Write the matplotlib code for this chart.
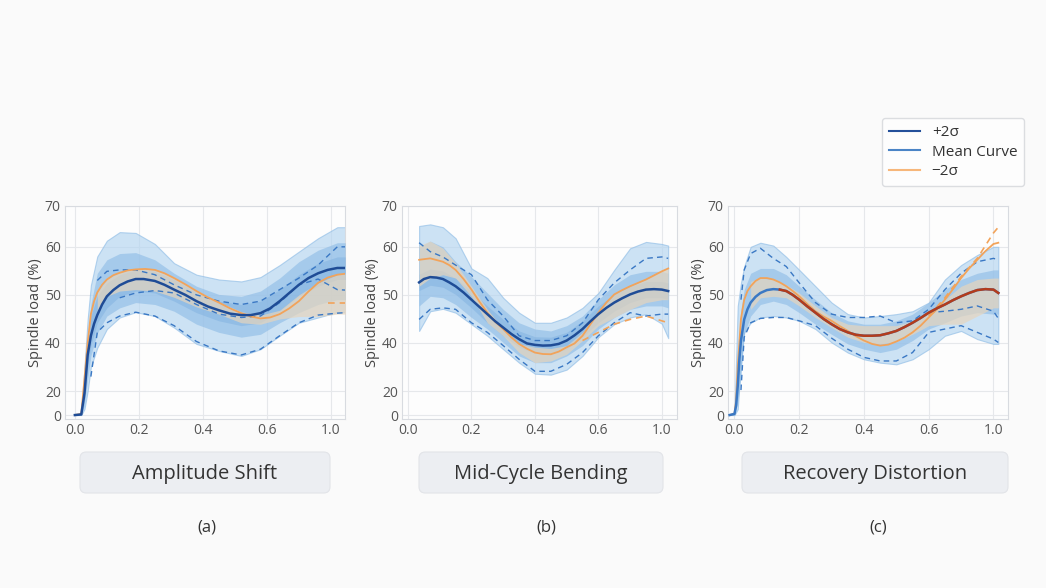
import numpy as np
import matplotlib.pyplot as plt
from matplotlib.lines import Line2D
from matplotlib.patches import FancyBboxPatch

plt.rcParams['font.family'] = ['Open Sans', 'DejaVu Sans']

nan = np.nan

# ---- panel (a) Amplitude Shift ----
x_a = [0, 0.02, 0.03, 0.04, 0.05, 0.07, 0.1, 0.14, 0.19, 0.25, 0.31, 0.38, 0.45, 0.52, 0.58, 0.64, 0.70, 0.76, 0.82, 0.845]
outer_a_hi = [0, 0.5, 30, 45, 52, 58, 61.5, 63.6, 63.4, 60.7, 56.6, 54.2, 53.2, 52.8, 53.7, 56.2, 59.0, 62.1, 64.8, 64.8]
outer_a_lo = [0, 0, 5, 20, 30, 38, 42.9, 45.3, 46.4, 45.6, 43.2, 39.6, 36.7, 34.6, 37.4, 41.5, 44.2, 45.3, 46.4, 46.4]
mid_a_hi = [0, 0.5, 25, 40, 48, 54.5, 57.3, 58.6, 58.8, 57.3, 54.5, 51.8, 50.1, 49.7, 50.8, 53.5, 56.9, 59.3, 61.0, 61.0]
mid_a_lo = [0, 0, 8, 25, 34.6, 42.0, 45.6, 47.3, 48.4, 48.0, 46.6, 43.9, 42.2, 41.2, 41.8, 44.2, 46.3, 48.0, 49.0, 49.0]
inner_a_hi = [0, 0.5, 22, 38, 45.6, 49.7, 52.5, 54.2, 55.2, 54.9, 53.2, 50.8, 48.7, 48.0, 48.7, 51.1, 54.2, 56.6, 57.9, 57.9]
inner_a_lo = [0, 0, 12, 30, 38.9, 44.2, 47.3, 49.7, 50.8, 50.4, 48.7, 46.3, 44.6, 43.6, 44.2, 46.6, 49.7, 51.8, 53.2, 53.2]
dash_a_hi = [nan, nan, nan, nan, nan, 53.0, 54.9, 55.2, 55.2, 54.2, 52.1, 50.0, 48.7, 48.0, 48.7, 51.1, 53.5, 56.2, 60.0, 60.0]
dash_a_lo = [nan, nan, nan, nan, 26, 42.2, 44.2, 45.6, 46.4, 45.6, 43.6, 40.3, 36.7, 35.0, 37.4, 41.5, 44.2, 45.8, 46.2, 46.3]
dash_a_mid = [nan, nan, nan, nan, nan, nan, nan, 49.4, 50.4, 50.9, 50.4, 48.0, 46.0, 45.3, 45.6, 48.4, 52.1, 53.3, 51.1, 51.0]
xm_a = [0, 0.02, 0.03, 0.04, 0.05, 0.06, 0.07, 0.085, 0.1, 0.12, 0.14, 0.165, 0.19, 0.215, 0.25, 0.28, 0.31, 0.345,
        0.38, 0.415, 0.45, 0.485, 0.52, 0.55, 0.58, 0.61, 0.64, 0.67, 0.70, 0.73, 0.76, 0.79, 0.82, 0.845]
mean_a = [0, 0.5, 18, 35, 41.5, 44.0, 45.8, 48.0, 49.7, 51.0, 52.0, 52.8, 53.3, 53.3, 52.9, 52.1, 51.1, 50.0,
          48.7, 47.6, 46.8, 46.1, 45.8, 45.8, 46.2, 47.2, 48.7, 50.4, 52.1, 53.5, 54.5, 55.2, 55.6, 55.6]
xr_a = [0, 0.02, 0.03, 0.04, 0.05, 0.06, 0.07, 0.085, 0.1, 0.12, 0.14, 0.165, 0.19, 0.22, 0.25, 0.28, 0.31, 0.345,
        0.38, 0.415, 0.45, 0.485, 0.52, 0.55, 0.58, 0.61, 0.64, 0.67, 0.70, 0.73, 0.76, 0.79, 0.82, 0.845]
orange_a = [0, 1, 25, 40, 46, 48.7, 50.5, 52.1, 53.2, 54.1, 54.6, 55.1, 55.3, 55.4, 55.2, 54.5, 53.5, 52.2,
            50.8, 49.5, 48.4, 47.2, 46.2, 45.5, 45.1, 45.3, 46.0, 47.2, 48.7, 50.7, 52.5, 53.6, 54.2, 54.4]
xb_a = [0.07, 0.1, 0.14, 0.19, 0.25, 0.31, 0.38, 0.45, 0.52, 0.58, 0.64, 0.70, 0.76, 0.82, 0.845]
beige_a_hi = [50.5, 53.2, 54.8, 55.5, 55.2, 53.7, 51.0, 48.5, 46.5, 45.8, 46.8, 50.0, 52.5, 54.2, 54.4]
beige_a_lo = [46.5, 49.7, 50.8, 51.1, 50.8, 49.5, 47.5, 46.0, 44.2, 43.9, 45.0, 45.5, 45.5, 46.0, 46.0]
xo_a = [0.79, 0.845]
odash_a = [48.4, 48.4]

# ---- panel (b) Mid-Cycle Bending ----
x_b = [0.035, 0.07, 0.11, 0.15, 0.2, 0.25, 0.3, 0.35, 0.4, 0.45, 0.5, 0.55, 0.6, 0.65, 0.7, 0.75, 0.8, 0.82]
outer_b_hi = [65.1, 65.5, 64.8, 62.1, 55.5, 53.5, 49.4, 46.3, 44.2, 44.2, 45.3, 47.3, 50.4, 55.2, 59.7, 61.2, 60.7, 60.3]
outer_b_lo = [42.5, 46.6, 47.1, 46.3, 43.9, 41.5, 37.4, 31.8, 27.2, 26.8, 28.9, 34.6, 41.2, 43.9, 45.3, 46.0, 44.0, 41.0]
mid_b_hi = [60.0, 61.4, 60.0, 56.9, 53.8, 50.4, 47.0, 44.2, 42.9, 42.5, 43.6, 45.6, 49.0, 52.1, 54.2, 54.9, 54.9, 54.5]
mid_b_lo = [47.7, 49.7, 49.4, 48.0, 45.3, 42.9, 40.1, 34.6, 31.8, 31.8, 34.6, 38.9, 42.9, 45.3, 47.0, 47.7, 47.7, 47.3]
inner_b_hi = [54.3, 55.4, 55.0, 53.5, 50.8, 47.7, 44.9, 42.5, 41.3, 41.2, 42.2, 44.6, 47.7, 50.1, 51.8, 52.8, 52.8, 52.5]
inner_b_lo = [50.9, 52.0, 51.6, 50.1, 47.3, 44.2, 41.5, 38.2, 35.6, 35.3, 37.4, 41.2, 44.2, 46.6, 48.4, 49.4, 49.4, 49.0]
dash_b_hi = [61.0, 59.0, 57.9, 56.2, 54.2, 49.0, 45.6, 41.5, 40.5, 40.5, 41.5, 44.2, 49.0, 52.5, 55.2, 57.6, 57.9, 57.6]
dash_b_lo = [44.9, 47.0, 47.3, 47.0, 44.2, 42.2, 38.9, 33.2, 28.2, 28.2, 31.1, 36.0, 41.5, 44.2, 46.3, 45.6, 46.0, 46.0]
dash_b_mid = [nan] * 18
xm_b = [0.035, 0.05, 0.07, 0.09, 0.11, 0.13, 0.15, 0.175, 0.2, 0.225, 0.25, 0.275, 0.3, 0.325, 0.35, 0.375, 0.4,
        0.425, 0.45, 0.475, 0.5, 0.525, 0.55, 0.575, 0.6, 0.625, 0.65, 0.675, 0.7, 0.725, 0.75, 0.775, 0.8, 0.82]
mean_b = [52.6, 53.3, 53.7, 53.6, 53.3, 52.6, 51.8, 50.5, 49.0, 47.5, 46.0, 44.5, 43.2, 41.9, 40.8, 39.8, 39.2,
          38.9, 39.0, 39.6, 40.5, 41.6, 42.9, 44.5, 46.0, 47.3, 48.4, 49.3, 50.1, 50.7, 51.1, 51.2, 51.1, 50.8]
xr_b = [0.035, 0.07, 0.11, 0.13, 0.15, 0.175, 0.2, 0.225, 0.25, 0.275, 0.3, 0.325, 0.35, 0.375, 0.4, 0.425,
        0.45, 0.475, 0.5, 0.525, 0.55, 0.575, 0.6, 0.625, 0.65, 0.675, 0.7, 0.75, 0.8, 0.82]
orange_b = [57.3, 57.6, 56.9, 56.2, 55.2, 53.3, 51.1, 48.6, 46.3, 44.4, 42.9, 41.2, 39.6, 37.6, 36.0, 35.4,
            35.3, 36.4, 38.2, 39.8, 41.5, 43.9, 46.3, 48.4, 50.1, 51.0, 51.8, 53.2, 54.9, 55.5]
xb_b = x_b
beige_b_hi = [60.3, 61.4, 59.7, 56.6, 51.8, 47.0, 42.9, 39.6, 38.2, 37.7, 38.9, 42.2, 46.6, 50.1, 51.8, 53.2, 55.2, 55.5]
beige_b_lo = [51.8, 53.5, 54.2, 53.5, 49.7, 44.2, 41.5, 36.0, 31.8, 32.5, 35.3, 40.5, 43.6, 45.3, 47.0, 48.4, 49.0, 49.0]
xo_b = [0.55, 0.6, 0.65, 0.7, 0.75, 0.8, 0.82]
odash_b = [40.5, 42.2, 43.9, 44.9, 45.6, 44.6, 44.2]

# ---- panel (c) Recovery Distortion ----
x_c = [-0.015, 0.0, 0.01, 0.02, 0.03, 0.05, 0.08, 0.12, 0.16, 0.2, 0.25, 0.3, 0.35, 0.4, 0.45, 0.5, 0.55, 0.6, 0.65, 0.7, 0.75, 0.8, 0.815]
outer_c_hi = [0, 1, 47.7, 52.5, 55.9, 60.0, 61.0, 60.3, 57.9, 55.2, 51.8, 48.4, 46.0, 45.3, 45.6, 46.0, 46.6, 48.4, 53.2, 56.2, 58.3, 60.0, 60.0]
outer_c_lo = [0, 0, 4.8, 31.8, 42.2, 44.2, 45.3, 45.6, 45.3, 44.6, 42.9, 40.1, 36.0, 33.2, 31.8, 31.1, 33.2, 37.4, 41.5, 42.5, 40.8, 39.6, 39.6]
mid_c_hi = [0, 1, 35, 47.0, 51.1, 54.5, 55.5, 55.5, 54.2, 51.8, 49.0, 46.3, 44.6, 43.9, 43.9, 44.6, 46.0, 48.4, 51.1, 53.2, 54.5, 55.2, 55.2]
mid_c_lo = [0, 0, 10, 26.1, 41.8, 45.6, 48.0, 48.7, 48.0, 46.3, 43.9, 41.8, 39.6, 37.4, 36.0, 37.4, 40.5, 42.9, 44.2, 45.6, 46.3, 46.0, 46.0]
inner_c_hi = [nan] * 23
inner_c_lo = [nan] * 23
dash_c_hi = [nan, nan, nan, 49.0, 55.2, 58.6, 59.7, 57.6, 55.9, 52.5, 48.4, 46.0, 45.3, 45.3, 45.6, 44.2, 44.6, 47.0, 51.1, 54.5, 56.9, 57.6, 57.3]
dash_c_lo = [nan, nan, nan, 20.4, 41.2, 44.2, 45.1, 45.3, 45.3, 44.6, 43.6, 41.0, 37.4, 34.0, 32.5, 32.5, 36.0, 42.2, 42.9, 43.6, 42.2, 40.8, 40.1]
dash_c_mid = [nan] * 17 + [46.3, 46.6, 47.0, 47.7, 46.6, 45.1]
xm_c = [-0.015, 0.0, 0.005, 0.01, 0.015, 0.02, 0.03, 0.04, 0.05, 0.065, 0.08, 0.1, 0.12, 0.14, 0.16, 0.18, 0.2,
        0.225, 0.25, 0.275, 0.3, 0.325, 0.35, 0.375, 0.4, 0.425, 0.45, 0.475, 0.5, 0.525, 0.55, 0.575, 0.6,
        0.625, 0.65, 0.675, 0.7, 0.725, 0.75, 0.775, 0.8, 0.815]
mean_c = [0, 1, 8, 22, 33, 40.5, 44.9, 47.0, 48.4, 49.6, 50.4, 51.0, 51.2, 51.1, 50.8, 50.0, 49.0,
          47.6, 46.3, 45.0, 43.9, 42.9, 42.2, 41.7, 41.5, 41.5, 41.6, 42.0, 42.5, 43.3, 44.2, 45.2, 46.3,
          47.2, 48.0, 48.9, 49.7, 50.4, 51.0, 51.2, 51.1, 50.4]
xr_c = [-0.015, 0.0, 0.005, 0.01, 0.015, 0.02, 0.03, 0.04, 0.05, 0.065, 0.08, 0.1, 0.12, 0.14, 0.16, 0.18, 0.2,
        0.225, 0.25, 0.275, 0.3, 0.325, 0.35, 0.375, 0.4, 0.425, 0.45, 0.475, 0.5, 0.525, 0.55, 0.575, 0.6,
        0.625, 0.65, 0.675, 0.7, 0.725, 0.75, 0.775, 0.8, 0.815]
orange_c = [0, 1, 12, 30, 40, 45.0, 49.0, 50.8, 51.8, 52.9, 53.5, 53.5, 53.2, 52.6, 51.8, 50.8, 49.7,
            48.1, 46.6, 45.5, 44.6, 43.5, 42.5, 41.4, 40.5, 39.6, 38.9, 39.3, 40.3, 41.1, 42.2, 43.6, 45.3,
            47.0, 49.0, 51.2, 53.5, 55.5, 57.3, 59.1, 60.7, 61.0]
xb_c = [0.05, 0.08, 0.12, 0.16, 0.2, 0.25, 0.3, 0.35, 0.4, 0.45, 0.5, 0.55, 0.6, 0.65, 0.7, 0.75, 0.8, 0.815]
beige_c_hi = [52.8, 53.5, 53.2, 52.1, 50.4, 47.7, 45.3, 43.9, 43.6, 43.6, 43.6, 44.6, 46.6, 49.0, 51.8, 53.2, 53.5, 53.5]
beige_c_lo = [47.0, 49.4, 49.7, 49.4, 47.7, 45.3, 43.2, 41.2, 40.1, 39.6, 40.3, 41.8, 43.6, 43.9, 43.9, 45.6, 47.3, 47.3]
xo_c = [0.6, 0.65, 0.7, 0.75, 0.8, 0.815]
odash_c = [45.6, 49.4, 53.8, 57.6, 63.4, 64.8]
red_start_c = 13   # mean curve drawn in red from this point on

titles = ["Amplitude Shift", "Mid-Cycle Bending", "Recovery Distortion"]
letters = ["(a)", "(b)", "(c)"]
xtick_pos = [0, 0.2, 0.4, 0.6, 0.8]
xtick_lbl = ["0.0", "0.2", "0.4", "0.6", "1.0"]
ytick_vals = [0, 20, 40, 50, 60, 70]

# uneven y axis as in the original
YV = [-100, 0, 20, 40, 50, 60, 70, 200]
YU = [-2.5, 0, 0.5, 1.5, 2.5, 3.5, 4.35, 15.4]


def fwd(v):
    return np.interp(v, YV, YU)


def inv(u):
    return np.interp(u, YU, YV)


NAVY = "#1f4c96"
MBLUE = "#3a78c4"
ORANGE = "#f2a35a"
RED = "#b33c1c"

panels = [
    dict(x=x_a, ohi=outer_a_hi, olo=outer_a_lo, mhi=mid_a_hi, mlo=mid_a_lo,
         ihi=inner_a_hi, ilo=inner_a_lo, dhi=dash_a_hi, dlo=dash_a_lo, dmid=dash_a_mid,
         xm=xm_a, mean=mean_a, xr=xr_a, org=orange_a,
         xb=xb_a, bhi=beige_a_hi, blo=beige_a_lo, xo=xo_a, od=odash_a,
         pos=[0.0621, 0.2874, 0.2677, 0.3623], xlim=(-0.031, 0.844)),
    dict(x=x_b, ohi=outer_b_hi, olo=outer_b_lo, mhi=mid_b_hi, mlo=mid_b_lo,
         ihi=inner_b_hi, ilo=inner_b_lo, dhi=dash_b_hi, dlo=dash_b_lo, dmid=dash_b_mid,
         xm=xm_b, mean=mean_b, xr=xr_b, org=orange_b,
         xb=xb_b, bhi=beige_b_hi, blo=beige_b_lo, xo=xo_b, od=odash_b,
         pos=[0.3843, 0.2874, 0.2630, 0.3623], xlim=(-0.019, 0.848)),
    dict(x=x_c, ohi=outer_c_hi, olo=outer_c_lo, mhi=mid_c_hi, mlo=mid_c_lo,
         ihi=inner_c_hi, ilo=inner_c_lo, dhi=dash_c_hi, dlo=dash_c_lo, dmid=dash_c_mid,
         xm=xm_c, mean=mean_c, xr=xr_c, org=orange_c,
         xb=xb_c, bhi=beige_c_hi, blo=beige_c_lo, xo=xo_c, od=odash_c,
         pos=[0.6960, 0.2874, 0.2677, 0.3623], xlim=(-0.02, 0.845)),
]

fig = plt.figure(figsize=(10.46, 5.88), dpi=100, facecolor="#fafafa")

for i, p in enumerate(panels):
    ax = fig.add_axes(p["pos"])
    ax.set_facecolor("#fdfdfd")
    ax.set_yscale("function", functions=(fwd, inv))
    ax.set_ylim(-3.3, 70)
    ax.set_xlim(*p["xlim"])

    ax.fill_between(p["x"], p["olo"], p["ohi"], color="#b3d4f0", alpha=0.65, lw=0.8, edgecolor="#8fbde6", zorder=2)
    ax.fill_between(p["x"], p["mlo"], p["mhi"], color="#86b7e4", alpha=0.55, lw=0, zorder=3)
    ax.fill_between(p["x"], p["ilo"], p["ihi"], color="#6fa5da", alpha=0.35, lw=0, zorder=4)
    ax.fill_between(p["xb"], p["blo"], p["bhi"], color="#e6d5bd", alpha=0.7, lw=0, zorder=5)

    ax.plot(p["x"], p["dhi"], ls=(0, (4, 3)), color=MBLUE, lw=1.0, zorder=6)
    ax.plot(p["x"], p["dlo"], ls=(0, (4, 3)), color=MBLUE, lw=1.0, zorder=6)
    ax.plot(p["x"], p["dmid"], ls=(0, (4, 3)), color=MBLUE, lw=1.0, zorder=6)
    ax.plot(p["xo"], p["od"], ls=(0, (4, 3)), color=ORANGE, lw=1.2, zorder=6)
    ax.plot(p["xr"], p["org"], color=ORANGE, lw=1.3, zorder=7, solid_joinstyle="round")

    if i == 2:
        ax.plot(p["xm"], p["mean"], color=MBLUE, lw=1.8, zorder=8, solid_joinstyle="round")
        ax.plot(p["xm"][red_start_c:], p["mean"][red_start_c:], color=RED, lw=1.8, zorder=9,
                solid_joinstyle="round")
    else:
        ax.plot(p["xm"], p["mean"], color=NAVY, lw=1.8, zorder=8, solid_joinstyle="round")

    ax.set_xticks(xtick_pos)
    ax.set_xticklabels(xtick_lbl)
    ax.set_yticks(ytick_vals)
    ax.set_yticklabels([str(v) for v in ytick_vals])
    ax.tick_params(length=0, labelsize=10, labelcolor="#555555", pad=3)
    ax.grid(True, color="#e6e8eb", lw=0.8, zorder=0)
    ax.set_axisbelow(True)
    for s in ax.spines.values():
        s.set_color("#d8dbe0")
        s.set_linewidth(0.8)
    ax.set_ylabel("Spindle load (%)", fontsize=10.5, color="#444444", labelpad=1)

# title boxes and panel letters
box_x = [(80, 250), (419, 244), (742, 266)]
letter_x = [207, 546, 878]
W, H = 1046, 588
for i, (bx, bw) in enumerate(box_x):
    patch = FancyBboxPatch((bx / W, 1 - 493 / H), bw / W, 41 / H,
                           boxstyle="round,pad=0,rounding_size=0.006",
                           mutation_aspect=W / H,
                           transform=fig.transFigure, facecolor="#eceef2",
                           edgecolor="#e2e4e8", lw=0.8)
    fig.patches.append(patch)
    fig.text((bx + bw / 2) / W, 1 - 474 / H, titles[i], ha="center", va="center",
             fontsize=14.5, color="#333333")
    fig.text(letter_x[i] / W, 1 - 527 / H, letters[i], ha="center", va="center",
             fontsize=12, color="#333333")

handles = [Line2D([], [], color="#24509a", lw=1.5),
           Line2D([], [], color="#4a84c6", lw=1.5),
           Line2D([], [], color="#f7b77a", lw=1.5)]
fig.legend(handles, ["+2σ", "Mean Curve", "−2σ"], loc="upper left",
           bbox_to_anchor=(0.836, 0.812), fontsize=11, frameon=True,
           edgecolor="#d4d6da", facecolor="#ffffff", fancybox=True,
           handlelength=2.0, labelcolor="#333333", borderpad=0.45, labelspacing=0.3,
           handletextpad=0.8)

fig.savefig("out.png", dpi=100, facecolor=fig.get_facecolor())
